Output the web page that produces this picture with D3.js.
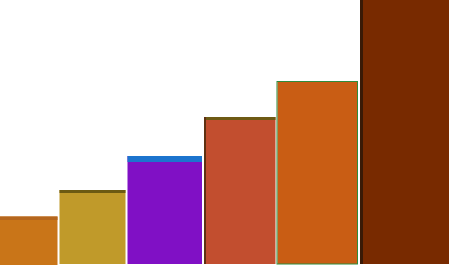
<!DOCTYPE html>
<html><head><meta charset="utf-8">
<script src="https://cdn.jsdelivr.net/npm/d3@7"></script>
<style>html,body{margin:0;padding:0;background:#fff;overflow:hidden}</style>
</head><body>
<svg id="c" width="450" height="265"></svg>
<script>
const categories = ["A", "B", "C", "D", "E", "F"];
const values = [47.5, 74, 108, 147, 183, 264];
const weights = [58.5, 68, 76.5, 73.5, 82.5, 91];
const fills = ["#C97518", "#C09A2A", "#8010C5", "#C24E2F", "#C95D14", "#782A00"];
const caps = ["#B5661E", "#6C5A12", "#1C74CE", "#6E5A14", null, null];

const W = 450, H = 265, base = 264;
const svg = d3.select("#c");
const total = d3.sum(weights);
const starts = d3.cumsum([0].concat(weights));
const x = d3.scaleLinear().domain([0, total]).range([0, W]);
const y = d3.scaleLinear().domain([0, 264]).range([base, 0]);

const data = categories.map((c, i) => ({c, v: values[i], s: starts[i], w: weights[i], f: fills[i], cap: caps[i], i}));

const g = svg.append("g");
const bars = g.selectAll("g.bar").data(data).enter().append("g").attr("class", "bar");

bars.append("rect")
  .attr("x", d => x(d.s) + (d.i === 0 ? 0 : 1))
  .attr("width", d => x(d.s + d.w) - x(d.s) - (d.i === 0 ? 1 : 2))
  .attr("y", d => y(d.v))
  .attr("height", d => base - y(d.v) + (d.i === 0 ? 1 : 0))
  .attr("fill", d => d.f);

// top cap bands
bars.filter(d => d.cap).append("rect")
  .attr("x", d => x(d.s) + (d.i === 0 ? 0 : 1))
  .attr("width", d => x(d.s + d.w) - x(d.s) - (d.i === 0 ? 1 : 2))
  .attr("y", d => y(d.v))
  .attr("height", d => d.i === 2 ? 6 : (d.i === 0 ? 3.5 : 3))
  .attr("fill", d => d.cap);

// bar D dark left edge
bars.filter(d => d.i === 3).append("rect")
  .attr("x", d => x(d.s) + 1)
  .attr("width", 2)
  .attr("y", d => y(d.v))
  .attr("height", d => base - y(d.v))
  .attr("fill", "#5E3012");

// bar E green outline
bars.filter(d => d.i === 4).append("rect")
  .attr("x", d => x(d.s) + 0.5)
  .attr("width", d => x(d.s + d.w) - x(d.s) - 2)
  .attr("y", d => y(d.v) + 0.5)
  .attr("height", d => base - y(d.v) - 0.5)
  .attr("fill", "none")
  .attr("stroke", "#2E8C3C")
  .attr("stroke-width", 1);

// bar F dark side
bars.filter(d => d.i === 5).append("rect")
  .attr("x", d => x(d.s) + 1)
  .attr("width", 3)
  .attr("y", d => y(d.v))
  .attr("height", d => base - y(d.v))
  .attr("fill", "#3A1A06");
</script>
</body></html>
